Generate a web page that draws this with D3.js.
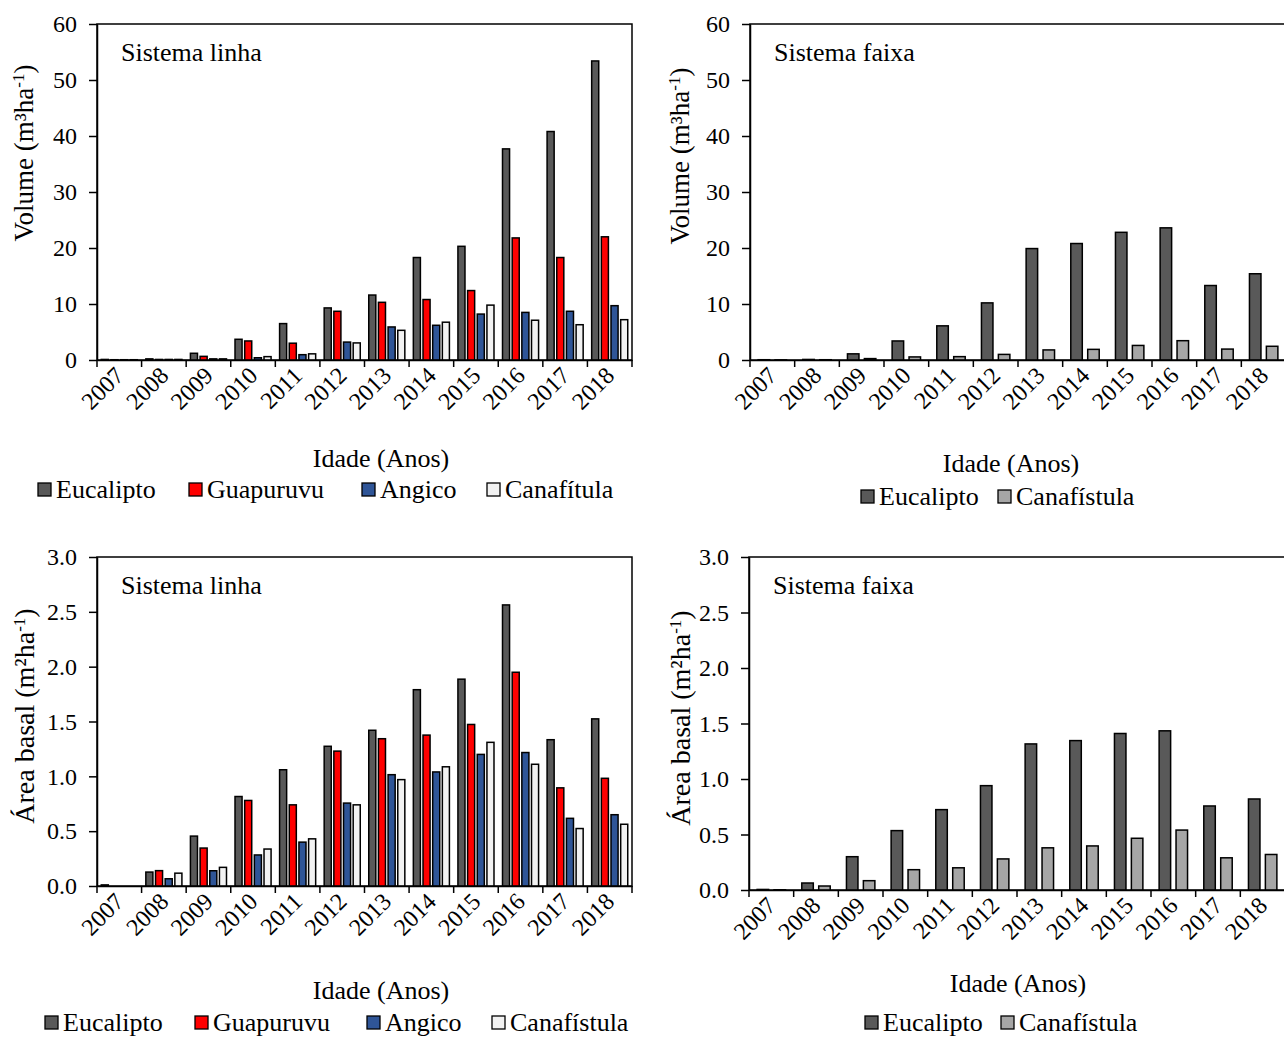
<!DOCTYPE html>
<html>
<head>
<meta charset="utf-8">
<script src="https://cdn.jsdelivr.net/npm/d3@7"></script>
<style>
  html, body { margin: 0; padding: 0; background: #fff; }
  svg { display: block; }
  text { font-family: "Liberation Serif", "Times New Roman", serif; fill: #000; }
</style>
</head>
<body>
<svg id="chart" width="1284" height="1038"></svg>
<script>
// Years on the category axis
const years = ["2007","2008","2009","2010","2011","2012","2013","2014","2015","2016","2017","2018"];

// Volume (m3/ha) – line system
const volLinhaEucalipto   = [0.1, 0.2, 1.2, 3.7, 6.5, 9.3, 11.6, 18.3, 20.3, 37.7, 40.8, 53.4];
const volLinhaGuapuruvu   = [0.05, 0.1, 0.65, 3.4, 3.0, 8.7, 10.3, 10.8, 12.4, 21.8, 18.3, 22.0];
const volLinhaAngico      = [0.05, 0.1, 0.2, 0.4, 0.95, 3.2, 5.9, 6.2, 8.2, 8.5, 8.7, 9.7];
const volLinhaCanafistula = [0.05, 0.1, 0.2, 0.6, 1.1, 3.05, 5.3, 6.75, 9.8, 7.1, 6.3, 7.2];

// Volume (m3/ha) – strip system
const volFaixaEucalipto   = [0.05, 0.1, 1.1, 3.4, 6.1, 10.2, 19.9, 20.8, 22.8, 23.6, 13.3, 15.4];
const volFaixaCanafistula = [0.02, 0.05, 0.25, 0.55, 0.6, 1.0, 1.8, 1.9, 2.6, 3.45, 1.95, 2.45];

// Basal area (m2/ha) – line system
const abLinhaEucalipto   = [0.01, 0.127, 0.455, 0.816, 1.06, 1.274, 1.42, 1.79, 1.886, 2.563, 1.334, 1.524];
const abLinhaGuapuruvu   = [0, 0.14, 0.346, 0.78, 0.74, 1.23, 1.343, 1.376, 1.473, 1.949, 0.895, 0.982];
const abLinhaAngico      = [0, 0.066, 0.139, 0.283, 0.40, 0.756, 1.015, 1.04, 1.20, 1.217, 0.617, 0.65];
const abLinhaCanafistula = [0, 0.117, 0.17, 0.337, 0.43, 0.74, 0.97, 1.087, 1.31, 1.11, 0.524, 0.563];

// Basal area (m2/ha) – strip system
const abFaixaEucalipto   = [0.005, 0.063, 0.30, 0.535, 0.724, 0.94, 1.316, 1.346, 1.41, 1.434, 0.757, 0.82];
const abFaixaCanafistula = [0.002, 0.036, 0.084, 0.183, 0.20, 0.28, 0.38, 0.397, 0.466, 0.54, 0.29, 0.32];

// Y tick values
const volTicks = [0, 10, 20, 30, 40, 50, 60];
const abTicks  = [0, 0.5, 1.0, 1.5, 2.0, 2.5, 3.0];

const COL = {
  euc: "#595959",
  guap: "#ff0000",
  ang: "#2f5597",
  canLight: "#f2f2f2",
  canGray: "#a6a6a6"
};

const svg = d3.select("#chart");

function drawPanel(cfg) {
  const g = svg.append("g");
  const x = d3.scaleBand().domain(years).range([cfg.left, cfg.left + cfg.width]).padding(0);
  const y = d3.scaleLinear().domain(cfg.domain).range([cfg.bottom, cfg.top]);

  const n = cfg.series.length;
  const inner = d3.scaleBand()
    .domain(d3.range(n))
    .range([0, x.bandwidth()])
    .paddingInner(n === 4 ? 0.27 : 0.32)
    .paddingOuter(n === 4 ? 0.44 : 0.48);

  // plot frame
  g.append("rect")
    .attr("x", cfg.left).attr("y", cfg.top)
    .attr("width", cfg.width).attr("height", cfg.bottom - cfg.top)
    .attr("fill", "none").attr("stroke", "#000").attr("stroke-width", 1.5);

  // bars
  cfg.series.forEach((s, si) => {
    g.append("g").selectAll("rect")
      .data(s.values)
      .join("rect")
      .attr("x", (d, i) => x(years[i]) + inner(si))
      .attr("y", d => y(d))
      .attr("width", inner.bandwidth())
      .attr("height", d => Math.max(0, cfg.bottom - y(d)))
      .attr("fill", s.color)
      .attr("stroke", "#000")
      .attr("stroke-width", 1.5);
  });

  // y axis
  const yAxis = d3.axisLeft(y)
    .tickValues(cfg.ticks)
    .tickFormat(cfg.fmt)
    .tickSize(8)
    .tickSizeOuter(0)
    .tickPadding(12);
  const ya = g.append("g").attr("transform", `translate(${cfg.left},0)`).call(yAxis);
  ya.select(".domain").attr("stroke-width", 1.5);
  ya.selectAll(".tick line").attr("stroke-width", 1.5);
  ya.selectAll(".tick text")
    .attr("font-size", 24)
    .attr("font-family", "Liberation Serif");

  // x axis with ticks between categories
  const xAxis = d3.axisBottom(x).tickSize(0).tickSizeOuter(0).tickFormat("");
  const xa = g.append("g").attr("transform", `translate(0,${cfg.bottom})`).call(xAxis);
  xa.select(".domain").attr("stroke-width", 1.5);
  const edges = years.map(yr => x(yr)).concat([cfg.left + cfg.width]);
  g.append("g").selectAll("line")
    .data(edges)
    .join("line")
    .attr("x1", d => d).attr("x2", d => d)
    .attr("y1", cfg.bottom).attr("y2", cfg.bottom + 7)
    .attr("stroke", "#000").attr("stroke-width", 1.5);

  // rotated year labels
  g.append("g").selectAll("text")
    .data(years)
    .join("text")
    .attr("transform", d => `translate(${x(d) + x.bandwidth() / 2 + 6},${cfg.bottom + 17}) rotate(-45)`)
    .attr("text-anchor", "end")
    .attr("font-size", 24)
    .text(d => d);

  // panel title
  g.append("text")
    .attr("x", cfg.left + (cfg.titleDx || 24))
    .attr("y", cfg.top + 37)
    .attr("font-size", 26)
    .text(cfg.title);

  // y axis title
  const yt = g.append("text")
    .attr("transform", `translate(${cfg.yTitleX},${cfg.yTitleY}) rotate(-90)`)
    .attr("text-anchor", "middle")
    .attr("font-size", cfg.yTitleSize);
  yt.append("tspan").text(cfg.yTitle[0]);
  yt.append("tspan").attr("baseline-shift", "super").attr("font-size", 17).text(cfg.yTitle[1]);
  yt.append("tspan").text(cfg.yTitle[2]);

  // x axis title
  g.append("text")
    .attr("x", cfg.xTitleX).attr("y", cfg.xTitleY)
    .attr("text-anchor", "middle")
    .attr("font-size", 26)
    .text("Idade (Anos)");

  // legend
  const lg = g.append("g");
  cfg.legend.forEach(item => {
    lg.append("rect")
      .attr("x", item.x).attr("y", cfg.legendY - 15)
      .attr("width", 13).attr("height", 13)
      .attr("fill", item.color).attr("stroke", "#000").attr("stroke-width", 1.3);
    lg.append("text")
      .attr("x", item.x + 18).attr("y", cfg.legendY)
      .attr("font-size", 26)
      .text(item.label);
  });
}

drawPanel({
  left: 97, top: 24, width: 535, bottom: 360,
  domain: [0, 60], ticks: volTicks, fmt: d3.format("d"),
  title: "Sistema linha",
  yTitle: ["Volume (m³ha", "-1", ")"], yTitleX: 33, yTitleY: 153, yTitleSize: 27,
  xTitleX: 381, xTitleY: 467,
  legendY: 498,
  series: [
    { values: volLinhaEucalipto, color: COL.euc },
    { values: volLinhaGuapuruvu, color: COL.guap },
    { values: volLinhaAngico, color: COL.ang },
    { values: volLinhaCanafistula, color: COL.canLight }
  ],
  legend: [
    { x: 38, label: "Eucalipto", color: COL.euc },
    { x: 189, label: "Guapuruvu", color: COL.guap },
    { x: 362, label: "Angico", color: COL.ang },
    { x: 487, label: "Canafítula", color: COL.canLight }
  ]
});

drawPanel({
  left: 750, top: 24, width: 536, bottom: 360,
  domain: [0, 60], ticks: volTicks, fmt: d3.format("d"),
  title: "Sistema faixa",
  yTitle: ["Volume (m³ha", "-1", ")"], yTitleX: 689, yTitleY: 156, yTitleSize: 27,
  xTitleX: 1011, xTitleY: 472,
  legendY: 505,
  series: [
    { values: volFaixaEucalipto, color: COL.euc },
    { values: volFaixaCanafistula, color: COL.canGray }
  ],
  legend: [
    { x: 861, label: "Eucalipto", color: COL.euc },
    { x: 998, label: "Canafístula", color: COL.canGray }
  ]
});

drawPanel({
  left: 97, top: 557, width: 535, bottom: 886,
  domain: [0, 3], ticks: abTicks, fmt: d3.format(".1f"),
  title: "Sistema linha",
  yTitle: ["Área basal (m²ha", "-1", ")"], yTitleX: 34, yTitleY: 716, yTitleSize: 28,
  xTitleX: 381, xTitleY: 999,
  legendY: 1031,
  series: [
    { values: abLinhaEucalipto, color: COL.euc },
    { values: abLinhaGuapuruvu, color: COL.guap },
    { values: abLinhaAngico, color: COL.ang },
    { values: abLinhaCanafistula, color: COL.canLight }
  ],
  legend: [
    { x: 45, label: "Eucalipto", color: COL.euc },
    { x: 195, label: "Guapuruvu", color: COL.guap },
    { x: 367, label: "Angico", color: COL.ang },
    { x: 492, label: "Canafístula", color: COL.canLight }
  ]
});

drawPanel({
  left: 749, top: 557, width: 536, bottom: 890,
  domain: [0, 3], ticks: abTicks, fmt: d3.format(".1f"),
  title: "Sistema faixa",
  yTitle: ["Área basal (m²ha", "-1", ")"], yTitleX: 690, yTitleY: 718, yTitleSize: 28,
  xTitleX: 1018, xTitleY: 992,
  legendY: 1031,
  series: [
    { values: abFaixaEucalipto, color: COL.euc },
    { values: abFaixaCanafistula, color: COL.canGray }
  ],
  legend: [
    { x: 865, label: "Eucalipto", color: COL.euc },
    { x: 1001, label: "Canafístula", color: COL.canGray }
  ]
});
</script>
</body>
</html>
